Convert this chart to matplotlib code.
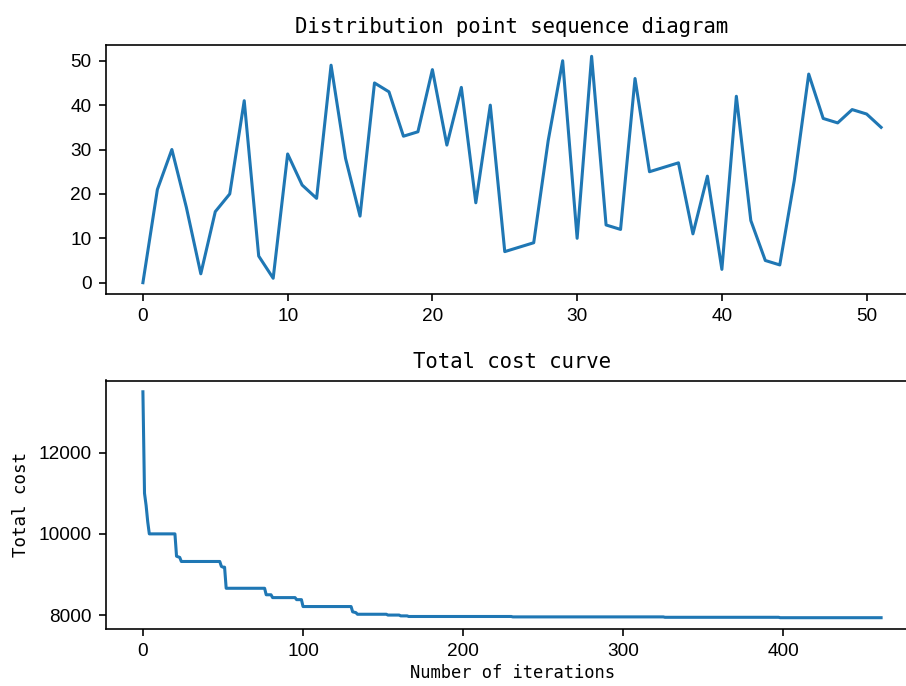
import numpy as np
import matplotlib
matplotlib.use('Agg')
import matplotlib.pyplot as plt

# 配送点顺序
seq_index = list(range(52))
seq_points = [0, 21, 30, 17, 2, 16, 20, 41, 6, 1, 29, 22, 19, 49, 28, 15,
              45, 43, 33, 34, 48, 31, 44, 18, 40, 7, 8, 9, 32, 50, 10, 51,
              13, 12, 46, 25, 26, 27, 11, 24, 3, 42, 14, 5, 4, 23, 47, 37,
              36, 39, 38, 35]

# 总成本曲线 (拐点)
iters = [0, 1, 2, 3, 4, 20, 21, 23, 24, 48, 49, 50, 51, 52, 76, 77, 80, 81,
         95, 96, 99, 100, 130, 131, 133, 134, 152, 153, 160, 161, 165, 166,
         230, 231, 325, 326, 397, 398, 461]
costs = [13500, 11000, 10700, 10300, 10000, 10000, 9450, 9420, 9320, 9320,
         9200, 9180, 9180, 8660, 8660, 8500, 8500, 8430, 8430, 8380, 8380,
         8210, 8210, 8080, 8060, 8020, 8020, 8000, 8000, 7980, 7980, 7965,
         7965, 7955, 7955, 7945, 7945, 7935, 7935]

tick_font = 'Liberation Sans'
mono = 'DejaVu Sans Mono'

dpi = 147
fig = plt.figure(figsize=(906 / dpi, 686 / dpi), dpi=dpi)
ax1 = fig.add_axes([106 / 906, 1 - 294 / 686, 812 / 906, 249 / 686])
ax2 = fig.add_axes([106 / 906, 1 - 629 / 686, 812 / 906, 248.5 / 686])

ax1.plot(seq_index, seq_points)
ax1.set_title('Distribution point sequence diagram', family=mono, fontsize=10.1)

ax2.plot(iters, costs)
ax2.set_title('Total cost curve', family=mono, fontsize=10.1)
ax2.set_xlabel('Number of iterations', family=mono, fontsize=8.4, labelpad=2)
ax2.set_ylabel('Total cost', family=mono, fontsize=8.6)
ax2.set_yticks([8000, 10000, 12000])

for ax in (ax1, ax2):
    for lab in ax.get_xticklabels() + ax.get_yticklabels():
        lab.set_family(tick_font)
        lab.set_fontsize(9.3)

fig.savefig('out.png', dpi=dpi)
